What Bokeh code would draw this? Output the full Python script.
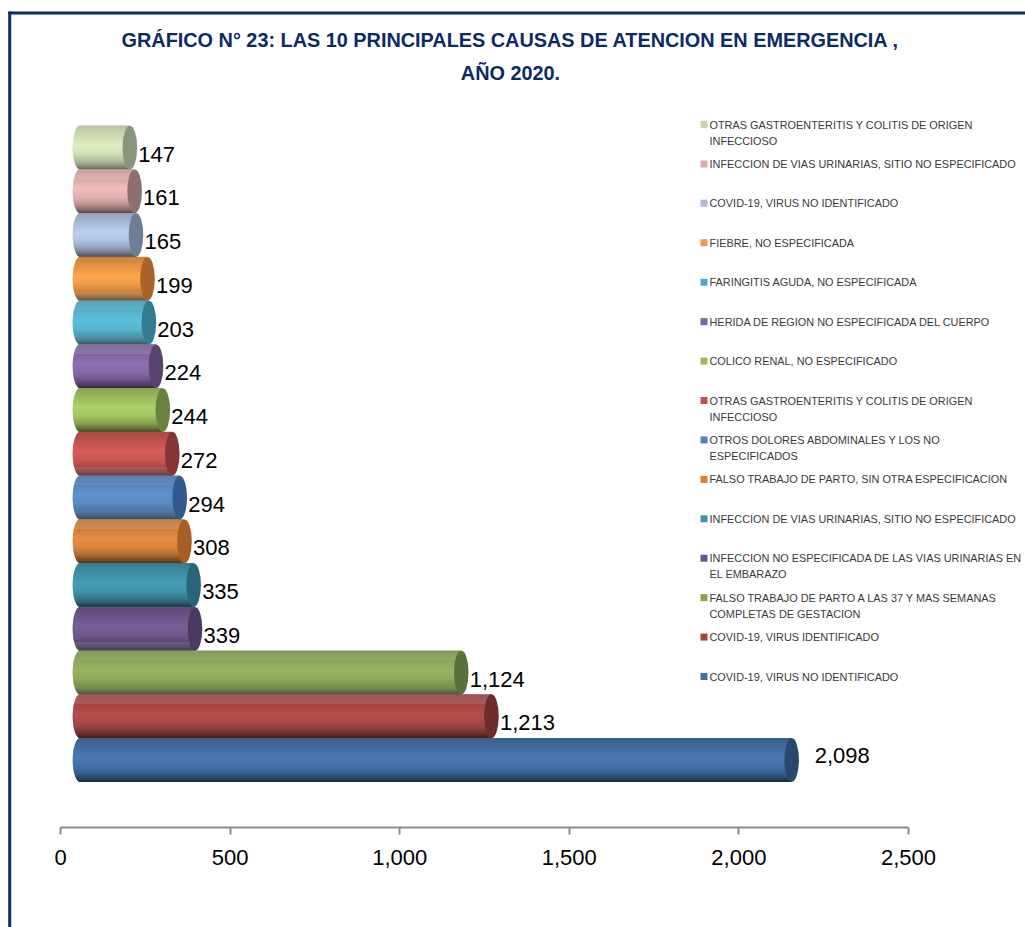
import math
from bokeh.embed import file_html
from bokeh.resources import INLINE
from bokeh.plotting import figure
from bokeh.models import Range1d, FixedTicker, NumeralTickFormatter
from bokeh.core.properties import value

TITLE_LINES = ["GRÁFICO N° 23: LAS 10 PRINCIPALES CAUSAS DE ATENCION EN EMERGENCIA ,", "AÑO 2020."]

# Values, bottom row first
values = [2098, 1213, 1124, 339, 335, 308, 294, 272, 244, 224, 203, 199, 165, 161, 147]
value_labels = ["2,098", "1,213", "1,124", "339", "335", "308", "294", "272", "244", "224", "203", "199", "165", "161", "147"]
legend_lines = [
    ["COVID-19, VIRUS NO IDENTIFICADO"],
    ["COVID-19, VIRUS IDENTIFICADO"],
    ["FALSO TRABAJO DE PARTO A LAS 37 Y MAS SEMANAS", "COMPLETAS DE GESTACION"],
    ["INFECCION NO ESPECIFICADA DE LAS VIAS URINARIAS EN", "EL EMBARAZO"],
    ["INFECCION DE VIAS URINARIAS, SITIO NO ESPECIFICADO"],
    ["FALSO TRABAJO DE PARTO, SIN OTRA ESPECIFICACION"],
    ["OTROS DOLORES ABDOMINALES Y LOS NO", "ESPECIFICADOS"],
    ["OTRAS GASTROENTERITIS Y COLITIS DE ORIGEN", "INFECCIOSO"],
    ["COLICO RENAL, NO ESPECIFICADO"],
    ["HERIDA DE REGION NO ESPECIFICADA DEL CUERPO"],
    ["FARINGITIS AGUDA, NO ESPECIFICADA"],
    ["FIEBRE, NO ESPECIFICADA"],
    ["COVID-19, VIRUS NO IDENTIFICADO"],
    ["INFECCION DE VIAS URINARIAS, SITIO NO ESPECIFICADO"],
    ["OTRAS GASTROENTERITIS Y COLITIS DE ORIGEN", "INFECCIOSO"],
]
legend_colors = ["#426FA5", "#A8423F", "#86A44A", "#6E548D", "#3D96AE", "#DA8137",
                 "#4F81BD", "#C0504D", "#9BBB59", "#8064A2", "#4BACC6", "#F79646",
                 "#AABAD7", "#D9AAA9", "#C6D6AC"]
bar_mid_colors = ["#4A7AB4", "#B44F4C", "#92B157", "#785F98", "#469FB8", "#E88D42",
                  "#558CCD", "#D95D59", "#AFD268", "#9070B4", "#50BEDB", "#FFA64E",
                  "#BCD0F0", "#F2BEBD", "#DFEFBE"]
cap_colors = ["#284870", "#6E2C2C", "#58703A", "#4A3A60", "#2A6478", "#A85E22",
              "#325A8C", "#853535", "#6A8240", "#574570", "#327C90", "#A8642C",
              "#6E7E96", "#8E6F70", "#87967A"]
x_ticks = [0, 500, 1000, 1500, 2000, 2500]

W, H = 1025, 927
X0_PX, X1_PX = 60, 908          # page px of 0 and 2500
UNIT = (X1_PX - X0_PX) / 2500
ROW_PX = 43.75
ROW0_PX = 759.5                 # page y of bottom row centre
DEPTH = 19.5                    # 3-D depth shift in px
CAP_HW = 7.3                    # half width of the end ellipse in px


def dx(px):
    return (px - X0_PX) / UNIT


def dy(py):
    return (ROW0_PX - py) / ROW_PX


p = figure(width=W, height=H, output_backend="svg", toolbar_location=None,
           x_range=Range1d(dx(0), dx(W)),
           y_range=Range1d(dy(H), dy(0)),
           min_border=0, min_border_left=0, min_border_right=0, min_border_top=0, min_border_bottom=0,
           outline_line_color=None, background_fill_color="white", border_fill_color="white")
p.grid.visible = False
p.yaxis.visible = False


def hex_rgb(c):
    return tuple(int(c[i:i + 2], 16) for i in (1, 3, 5))


def shade(t):
    # t from -1 (top edge) to 1 (bottom edge): darkening across the cylinder
    stops = [(-1, .78), (-.6, .88), (-.1, 1.0), (.3, .93), (.6, .78), (.85, .55), (1, .36)]
    for (a, fa), (b, fb) in zip(stops, stops[1:]):
        if t <= b:
            return fa + (fb - fa) * (t - a) / (b - a)
    return stops[-1][1]


N = 44
left, right, ys, cols = [], [], [], []
shift = DEPTH / UNIT
for row in range(len(values) - 1, -1, -1):
    rgb = hex_rgb(bar_mid_colors[row])
    for k in range(N):
        t = -1 + (2 * k + 1) / N
        f = shade(t)
        bulge = CAP_HW / UNIT * math.sqrt(max(0, 1 - t * t))
        left.append(shift - bulge)
        right.append(values[row] + shift)
        ys.append(row - t / 2)
        cols.append("#%02x%02x%02x" % tuple(min(255, int(c * f)) for c in rgb))
p.hbar(y=ys, left=left, right=right, height=1.4 / N, fill_color=cols, line_color=None)
p.ellipse(x=[v + shift for v in values], y=list(range(len(values))),
          width=2 * CAP_HW / UNIT, height=1.0, fill_color=cap_colors, line_color=None)

# Value labels
FONT = value("Liberation Sans")
lx, ly = [], []
for row, v in enumerate(values):
    if row == 0:
        lx.append(v + shift + 23 / UNIT)
        ly.append(row + 5 / ROW_PX)
    else:
        lx.append(v + shift + 8.5 / UNIT)
        ly.append(row - 6.5 / ROW_PX)
p.text(x=lx, y=ly, text=value_labels, text_font=FONT, text_font_size="22px",
       text_color="#000000", text_baseline="middle", text_align="left")

# Legend
LEG_TOP = 124
LEG_STEP = 39.43
sq_x, sq_y, t_x, t_y, t_s = [], [], [], [], []
for row in range(len(values)):
    y0 = LEG_TOP + LEG_STEP * (len(values) - 1 - row)
    sq_x.append(dx(703.5))
    sq_y.append(dy(y0))
    for i, line in enumerate(legend_lines[row]):
        t_x.append(dx(709))
        t_y.append(dy(y0 + i * 16))
        t_s.append(line)
p.scatter(x=sq_x, y=sq_y, marker="square", size=7, fill_color=legend_colors, line_color=None)
p.text(x=t_x, y=t_y, text=t_s, text_font=FONT, text_font_size="10.9px", text_color="#3a3a3a",
       text_baseline="middle", text_align="left")

# Title
p.text(x=[dx(510), dx(510)], y=[dy(39), dy(72)], text=TITLE_LINES, text_font=FONT,
       text_font_style="bold", text_font_size="19.85px", text_color="#0B2A66",
       text_baseline="middle", text_align="center")

# Frame lines
p.segment(x0=[dx(9.2), dx(8)], y0=[dy(11), dy(12.5)], x1=[dx(9.2), dx(W)], y1=[dy(H), dy(12.5)],
          line_color="#0B2A6E", line_width=3)

# Axis
ax = p.xaxis[0]
ax.fixed_location = dy(827)
ax.bounds = (0, 2500)
ax.ticker = FixedTicker(ticks=x_ticks)
ax.formatter = NumeralTickFormatter(format="0,0")
ax.axis_line_color = "#8C8C8C"
ax.axis_line_width = 2
ax.major_tick_line_color = "#8C8C8C"
ax.major_tick_line_width = 2
ax.major_tick_out = 7
ax.major_tick_in = 0
ax.minor_tick_line_color = None
ax.major_label_text_font = "Liberation Sans"
ax.major_label_text_font_size = "22px"
ax.major_label_text_color = "#000000"
ax.major_label_standoff = 15

open("out.html", "w").write(file_html(p, INLINE))
